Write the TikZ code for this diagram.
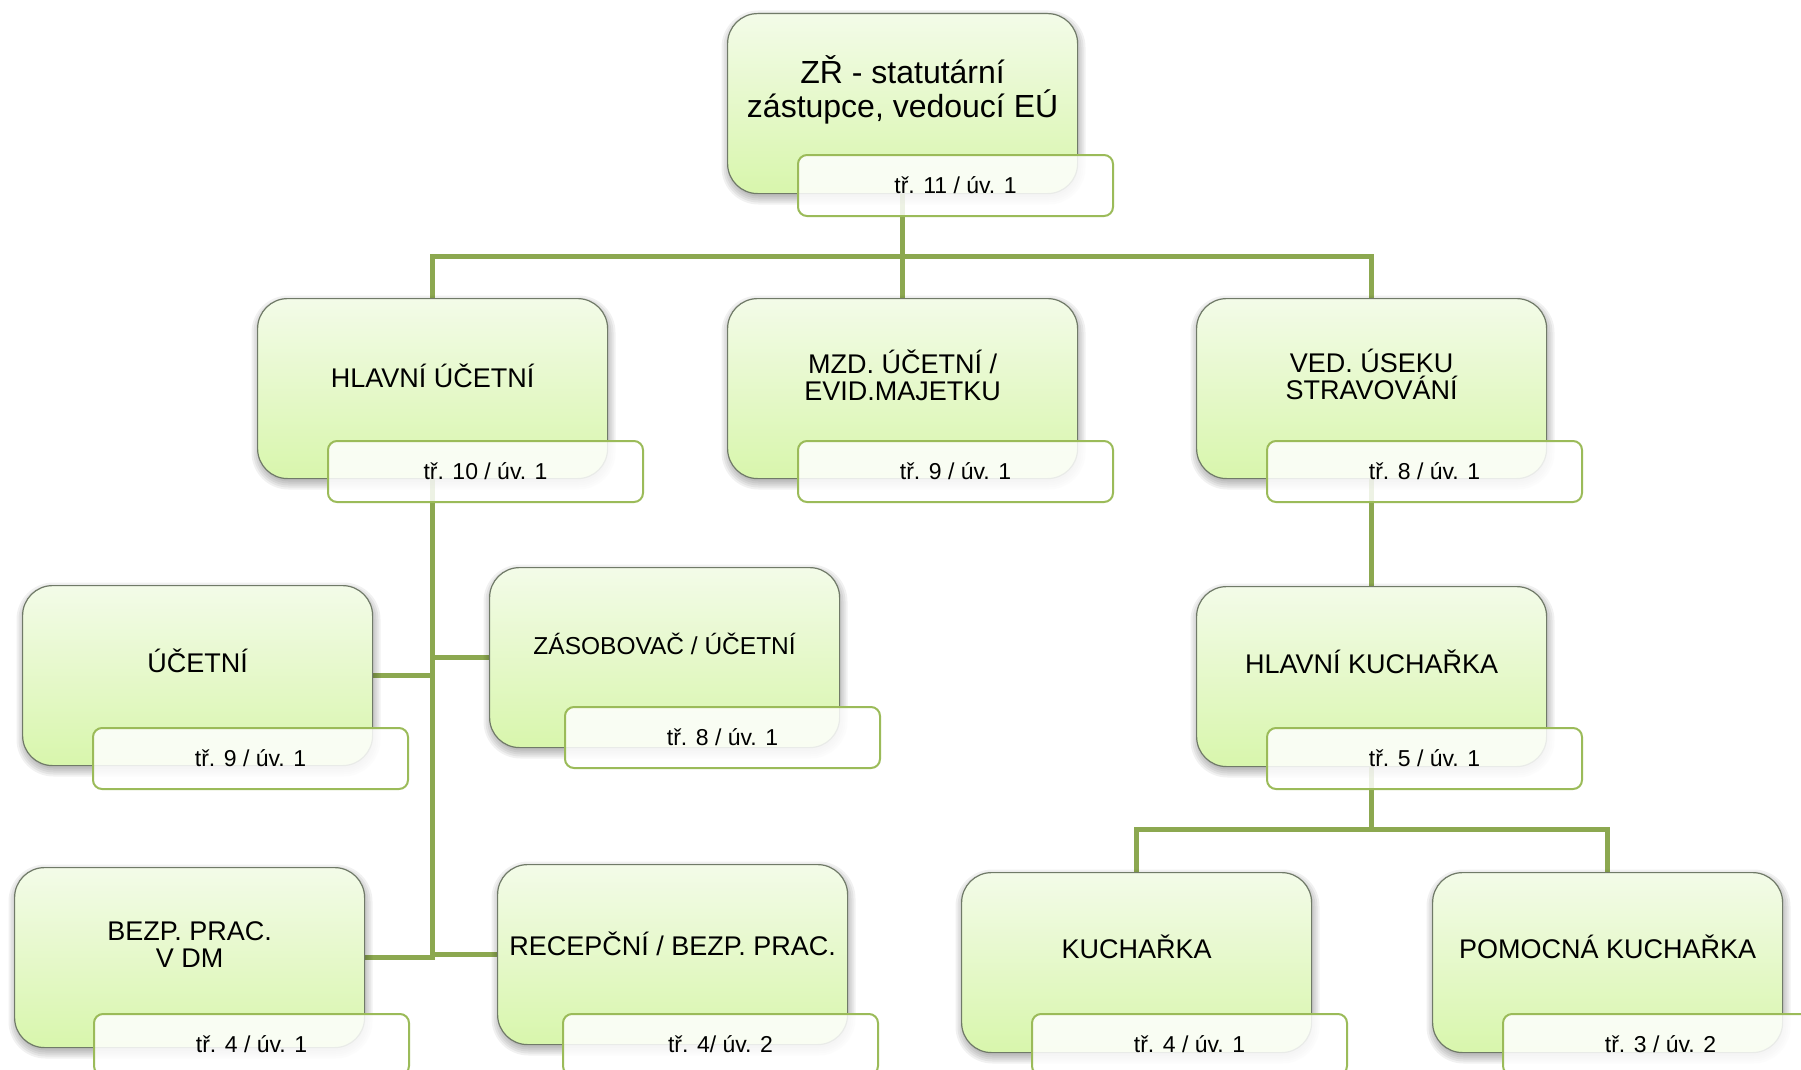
\documentclass[tikz,border=0pt]{standalone}
\usepackage{fontspec}
\setmainfont{Liberation Sans}
\usetikzlibrary{calc}
\pgfdeclarelayer{bg}
\pgfsetlayers{bg,main}
\definecolor{boxtop}{RGB}{243,251,232}
\definecolor{boxbot}{RGB}{216,246,172}
\definecolor{boxedge}{RGB}{112,122,104}
\definecolor{labeledge}{RGB}{155,187,89}
\definecolor{linecol}{RGB}{140,168,80}
\tikzset{
  mainbox/.style={rectangle, rounded corners=30pt, minimum width=350pt, minimum height=180pt,
    inner sep=0pt, draw=boxedge, line width=1.2pt, top color=boxtop, bottom color=boxbot,
    anchor=north west},
  shadowpart/.style={fill=black, fill opacity=0.055},
  labelbox/.style={rectangle, rounded corners=9pt, minimum width=315pt, minimum height=61pt,
    inner sep=0pt, draw=labeledge, line width=2pt, fill=white, fill opacity=0.85, text opacity=1,
    font=\fontsize{23}{26}\selectfont, text height=16pt, text depth=0pt, anchor=north west},
  boxtext/.style={anchor=base, align=center, inner sep=0pt},
  conn/.style={draw=linecol, line width=5pt},
}
\newcommand\orgunit[9]{%
  \foreach \s in {-1,1,3,5,7}{%
    \fill[shadowpart, rounded corners=30pt+\s pt] ($(#2,#3)+(1.5-\s,4.5-\s)$) rectangle ++(350+2*\s,180+2*\s);
  }
  \node[mainbox] (#1) at (#2,#3) {};
  \node[boxtext, font=#5] (#1-t) at ($(#1.north)+(0,#4)$) {#6};
  \node[labelbox] (#1-l) at (#8,#9) {#7};
}
\newcommand\fstd{\fontsize{27}{27}\selectfont}
\begin{document}
\begin{tikzpicture}[x=1pt,y=-1pt]
\begin{pgfonlayer}{bg}
\path[use as bounding box, fill=white] (0,0) rectangle (1801,1070);
\end{pgfonlayer}
\clip (0,0) rectangle (1801,1070);

\orgunit{top}{727}{13}{105}{\fontsize{32}{34}\selectfont}{ZŘ - statutární\\zástupce, vedoucí EÚ}{tř. 11 / úv. 1}{797}{154}
\orgunit{hu}{257}{298}{89}{\fstd}{HLAVNÍ ÚČETNÍ}{tř. 10 / úv. 1}{327}{440}
\orgunit{mzd}{727}{298}{102}{\fstd}{MZD. ÚČETNÍ /\\EVID.MAJETKU}{tř. 9 / úv. 1}{797}{440}
\orgunit{ved}{1196}{298}{101}{\fstd}{VED. ÚSEKU\\STRAVOVÁNÍ}{tř. 8 / úv. 1}{1266}{440}
\orgunit{uc}{22}{585}{87}{\fstd}{ÚČETNÍ}{tř. 9 / úv. 1}{92}{727}
\orgunit{zas}{489}{567}{87}{\fontsize{24.5}{27}\selectfont}{ZÁSOBOVAČ / ÚČETNÍ}{tř. 8 / úv. 1}{564}{706}
\orgunit{bezp}{14}{867}{100}{\fstd}{BEZP. PRAC.\\V DM}{tř. 4 / úv. 1}{93}{1013}
\orgunit{rec}{497}{864}{91}{\fstd}{RECEPČNÍ / BEZP. PRAC.}{tř. 4/ úv. 2}{562}{1013}
\orgunit{hk}{1196}{586}{87}{\fstd}{HLAVNÍ KUCHAŘKA}{tř. 5 / úv. 1}{1266}{727}
\orgunit{kuch}{961}{872}{86}{\fstd}{KUCHAŘKA}{tř. 4 / úv. 1}{1031}{1013}
\orgunit{pom}{1432}{872}{86}{\fstd}{POMOCNÁ KUCHAŘKA}{tř. 3 / úv. 2}{1502}{1013}

\begin{pgfonlayer}{bg}
  \coordinate (bus1) at (0,256);
  \coordinate (bus2) at (0,829);
  \draw[conn] (top.south) -- (top.south |- bus1);
  \draw[conn] (hu.north) |- (bus1 -| ved.north) -- (ved.north);
  \draw[conn] (mzd.north) -- (mzd.north |- bus1);
  \draw[conn] (hu.south) -- (hu.south |- bezp.east) -- (bezp.east);
  \draw[conn] (hu.south |- uc.east) -- (uc.east);
  \draw[conn] (hu.south |- zas.west) -- (zas.west);
  \draw[conn] (hu.south |- rec.west) -- (rec.west);
  \draw[conn] (ved.south) -- (ved.south |- hk.north);
  \draw[conn] (hk.south) -- (hk.south |- bus2);
  \draw[conn] (kuch.north) |- (bus2 -| pom.north) -- (pom.north);
\end{pgfonlayer}
\end{tikzpicture}
\end{document}
